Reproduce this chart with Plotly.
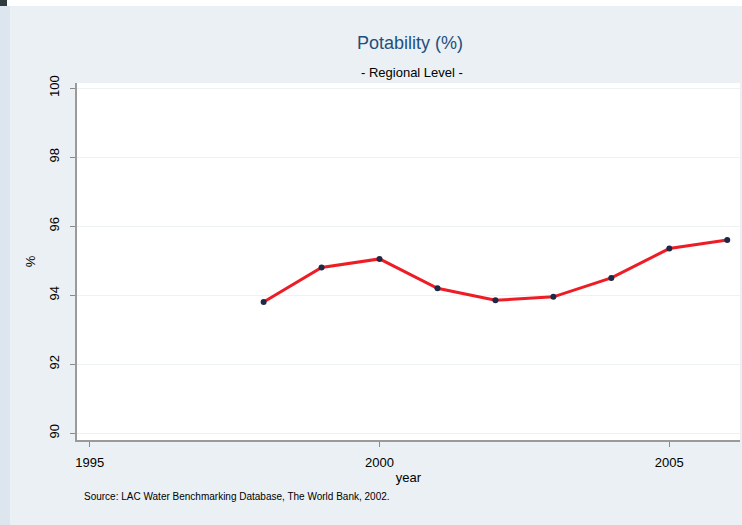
import plotly.graph_objects as go

years = [1998, 1999, 2000, 2001, 2002, 2003, 2004, 2005, 2006]
potability = [93.8, 94.8, 95.05, 94.2, 93.85, 93.95, 94.5, 95.35, 95.6]
x_ticks = [1995, 2000, 2005]
y_ticks = [90, 92, 94, 96, 98, 100]

W, H = 742, 525
ML, MR, MT, MB = 77, 2, 83, 85

fig = go.Figure()
fig.add_trace(go.Scatter(
    x=years, y=potability, mode="lines+markers",
    line=dict(color="#ee1c24", width=3),
    marker=dict(color="#1c2a48", size=6),
    showlegend=False,
))

fig.update_layout(
    width=W, height=H,
    margin=dict(l=ML, r=MR, t=MT, b=MB),
    paper_bgcolor="#eaf0f3",
    plot_bgcolor="#ffffff",
    font=dict(family="Liberation Sans, Arial, sans-serif", color="#000000"),
    xaxis=dict(
        range=[1994.78, 2006.22], tickvals=x_ticks,
        ticks="outside", ticklen=5, tickcolor="#8a8a8a",
        showline=True, linecolor="#9a9a9a", linewidth=2,
        showgrid=False, zeroline=False,
        tickfont=dict(size=13), ticklabelstandoff=4,
        title=dict(text="year", font=dict(size=13), standoff=4),
    ),
    yaxis=dict(
        range=[89.8, 100.15], tickvals=y_ticks,
        ticks="outside", ticklen=5, tickcolor="#8a8a8a",
        showline=True, linecolor="#9a9a9a", linewidth=2,
        showgrid=True, gridcolor="#eef2f2", gridwidth=1,
        zeroline=False, tickangle=-90,
        tickfont=dict(size=13), ticklabelstandoff=6,
        title=dict(text="%", font=dict(size=13), standoff=8),
    ),
)

def py(ypix):
    return (H - MB - ypix) / (H - MT - MB)

def px(xpix):
    return (xpix - ML) / (W - ML - MR)

# decorative page edges seen in the reference screenshot
fig.add_shape(type="rect", xref="paper", yref="paper", x0=px(0), x1=px(10), y0=py(H), y1=py(6),
              fillcolor="#dde6ee", line_width=0, layer="below")
fig.add_shape(type="rect", xref="paper", yref="paper", x0=px(0), x1=px(W), y0=py(6), y1=py(0),
              fillcolor="#ffffff", line_width=0, layer="below")
fig.add_shape(type="rect", xref="paper", yref="paper", x0=px(0), x1=px(7), y0=py(6), y1=py(0),
              fillcolor="#2f3b3f", line_width=0, layer="below")

fig.add_annotation(text="Potability (%)", x=px(410), y=py(43), xref="paper", yref="paper",
                   xanchor="center", yanchor="middle",
                   showarrow=False, font=dict(size=18, color="#1f4f7e"))
fig.add_annotation(text="- Regional Level -", x=px(412), y=py(72), xref="paper", yref="paper",
                   xanchor="center", yanchor="middle",
                   showarrow=False, font=dict(size=13, color="#000000"))
fig.add_annotation(text="Source: LAC Water Benchmarking Database, The World Bank, 2002.",
                   x=px(82), y=py(497), xref="paper", yref="paper",
                   xanchor="left", yanchor="middle",
                   showarrow=False, font=dict(size=10, color="#000000"))

fig.write_html("out.html", config={"displayModeBar": False},
               post_script="document.body.style.margin='0';document.body.style.background='#eaf0f3';")
